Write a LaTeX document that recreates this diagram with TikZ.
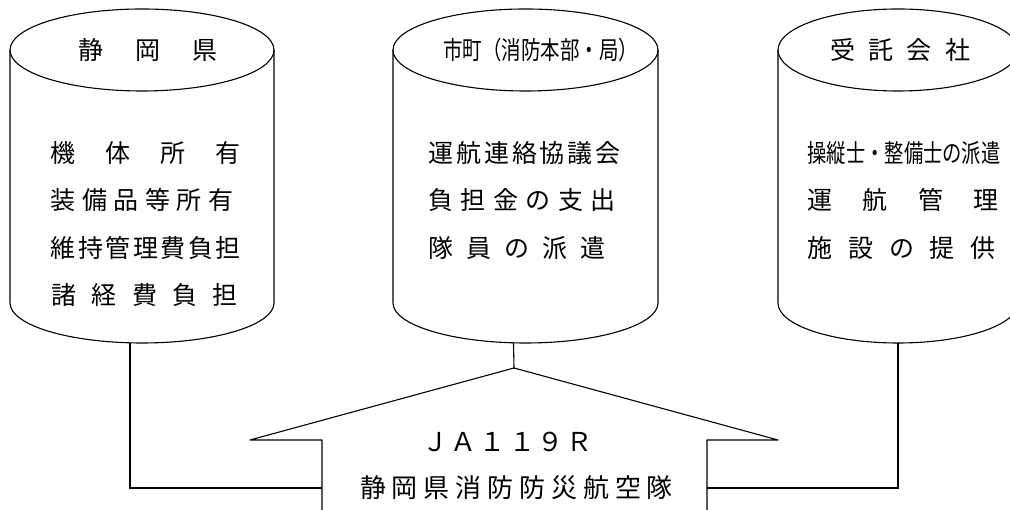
\documentclass[tikz,border=0pt]{standalone}
\usepackage{fontspec}
\setmainfont{Noto Sans CJK JP}
\usepackage{graphicx}

\makeatletter
\def\spr@loop#1#2\spr@end{#1\ifx\relax#2\relax\else\hfill\spr@loop#2\spr@end\fi}
\newcommand\spread[2]{\makebox[#1]{\spr@loop#2\spr@end}}
\makeatother

\begin{document}
\begin{tikzpicture}[x=1pt,y=1pt,line width=1.1pt,
    cyl/.style={draw,line join=round},
    jtext/.style={inner sep=0pt,font=\fontsize{25}{30}\selectfont}]
  \useasboundingbox (0,0) rectangle (1010,510);
  % cylinders
  \foreach \cx/\rx in {142/132,525.5/132.5,898/120}{
    \draw[cyl] (\cx-\rx,460) -- (\cx-\rx,207) arc[start angle=180,end angle=360,x radius=\rx,y radius=40] -- (\cx+\rx,460);
    \draw[cyl] (\cx,460) ellipse[x radius=\rx,y radius=41];
  }
  % house
  \coordinate (apex) at (514,142);
  \coordinate (bodyL) at (322,22);
  \coordinate (bodyR) at (707,22);
  \draw[cyl] (322,-2) -- (322,70) -- (250,70) -- (apex) -- (778,70) -- (707,70) -- (707,-2);
  % links
  \coordinate (kenB) at (130,167.2);
  \coordinate (shiB) at (513.5,167.2);
  \coordinate (itakuB) at (898,167);
  \draw (kenB) |- (bodyL);
  \draw (shiB) -- (apex);
  \draw (itakuB) |- (bodyR);
  % titles
  \node[jtext] (kenT) at (147.5,460) {\spread{139pt}{静岡県}};
  \node[jtext] (shiT) at (540.5,460) {\resizebox{195pt}{\height}{市町（消防本部・局）}};
  \node[jtext] (itakuT) at (900,460) {\spread{140pt}{受託会社}};
  % prefecture
  \node[jtext,anchor=west] (ken1) at (50,357) {\spread{190pt}{機体所有}};
  \node[jtext,anchor=west] (ken2) at (50,310) {\spread{183pt}{装備品等所有}};
  \node[jtext,anchor=west] (ken3) at (50,262) {\spread{190pt}{維持管理費負担}};
  \node[jtext,anchor=west] (ken4) at (51,215) {\spread{186pt}{諸経費負担}};
  % cities
  \node[jtext,anchor=west] (shi1) at (428,357) {\spread{192pt}{運航連絡協議会}};
  \node[jtext,anchor=west] (shi2) at (428,310) {\spread{187pt}{負担金の支出}};
  \node[jtext,anchor=west] (shi3) at (428,262) {\spread{177pt}{隊員の派遣}};
  % contractor
  \node[jtext,anchor=west] (itaku1) at (807,357) {\resizebox{193pt}{\height}{操縦士・整備士の派遣}};
  \node[jtext,anchor=west] (itaku2) at (807,310) {\spread{191pt}{運航管理}};
  \node[jtext,anchor=west] (itaku3) at (807,262) {\spread{188pt}{施設の提供}};
  % unit
  \node[jtext,font=\fontsize{26}{30}\selectfont] (reg) at (507.5,68) {\spread{171pt}{ＪＡ１１９Ｒ}};
  \node[jtext,font=\fontsize{26}{30}\selectfont] (tai) at (516.5,22) {\spread{313pt}{静岡県消防防災航空隊}};
\end{tikzpicture}
\end{document}
